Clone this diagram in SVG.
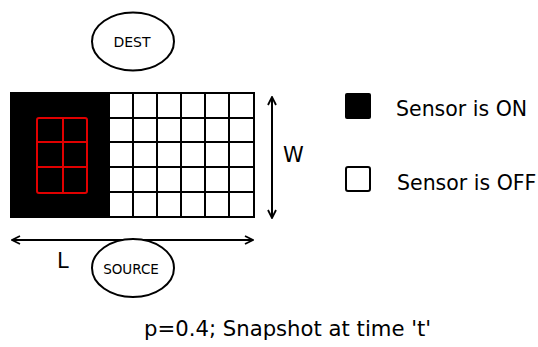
<svg xmlns="http://www.w3.org/2000/svg" width="538" height="347" viewBox="0 0 538 347">
<style>
.t{font-family:"DejaVu Sans",sans-serif;fill:#000}
.g{stroke:#000;stroke-width:2;fill:none}
.r{stroke:#e00000;stroke-width:2;fill:none}
.n{fill:#fff;stroke:#000;stroke-width:2}
.a{stroke:#000;stroke-width:2;fill:none}
</style>
<defs>
<marker id="ah" viewBox="0 0 10 10" refX="9" refY="5" markerWidth="10" markerHeight="10" markerUnits="userSpaceOnUse" orient="auto-start-reverse">
<path d="M1,1 L9,5 L1,9" fill="none" stroke="#000" stroke-width="1.8"/>
</marker>
</defs>
<g id="field">
<rect x="11" y="93" width="243" height="124" fill="#fff" stroke="#000" stroke-width="2"/>
<rect x="11" y="93" width="99" height="124" fill="#000"/>
<path class="g" d="M133,93V217M157,93V217M181,93V217M205,93V217M229,93V217M110,118H254M110,142H254M110,167H254M110,192H254"/>
<rect class="r" x="37" y="118" width="50" height="75" rx="2"/>
<path class="r" d="M63,118V193M37,142H87M37,167H87"/>
</g>
<g id="dest">
<ellipse class="n" cx="133" cy="41.5" rx="41" ry="29"/>
<text class="t" x="132" y="47" font-size="14" text-anchor="middle">DEST</text>
</g>
<g id="connectors">
<line class="a" x1="12" y1="240" x2="253" y2="240" marker-start="url(#ah)" marker-end="url(#ah)"/>
<line class="a" x1="272" y1="97" x2="272" y2="218" marker-start="url(#ah)" marker-end="url(#ah)"/>
</g>
<g id="source">
<ellipse class="n" cx="133" cy="268" rx="41" ry="29"/>
<text class="t" x="131" y="274" font-size="13.5" text-anchor="middle">SOURCE</text>
</g>
<text class="t" x="57" y="268" font-size="21">L</text>
<text class="t" x="283" y="162" font-size="21">W</text>
<g id="legend-on">
<rect x="345" y="93" width="26" height="26" rx="2" fill="#000"/>
<text class="t" x="396" y="116" font-size="20.5">Sensor is ON</text>
</g>
<g id="legend-off">
<rect x="346" y="167" width="24" height="24" rx="2" fill="#fff" stroke="#000" stroke-width="2"/>
<text class="t" x="397" y="190" font-size="20.5">Sensor is OFF</text>
</g>
<text class="t" x="144" y="336" font-size="21.2">p=0.4; Snapshot at time 't'</text>
</svg>
